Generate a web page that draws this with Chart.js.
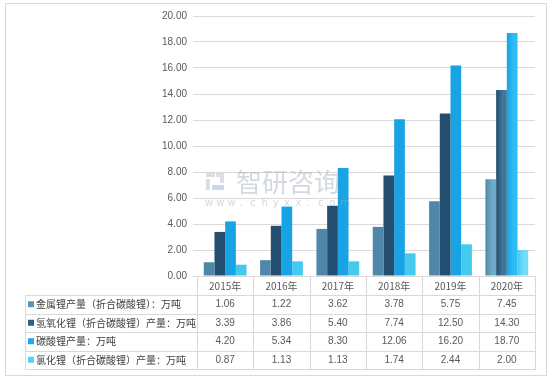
<!DOCTYPE html>
<html><head><meta charset="utf-8">
<script src="https://cdn.jsdelivr.net/npm/chart.js@4/dist/chart.umd.min.js"></script>
<style>html,body{margin:0;padding:0;background:#fff}#wrap{width:553px;height:379px;position:relative}</style>
</head><body><div id="wrap"><canvas id="c" width="553" height="379"></canvas></div>
<script>
const categories = ['2015年','2016年','2017年','2018年','2019年','2020年'];
const seriesNames = ['金属锂产量（折合碳酸锂）：万吨','氢氧化锂（折合碳酸锂）产量：万吨','碳酸锂产量：万吨','氯化锂（折合碳酸锂）产量：万吨'];
const metalLithium = [1.06,1.22,3.62,3.78,5.75,7.45];
const lithiumHydroxide = [3.39,3.86,5.40,7.74,12.50,14.30];
const lithiumCarbonate = [4.20,5.34,8.30,12.06,16.20,18.70];
const lithiumChloride = [0.87,1.13,1.13,1.74,2.44,2.00];
const yMin = 0, yMax = 20, yStep = 2;

const seriesValues = [metalLithium, lithiumHydroxide, lithiumCarbonate, lithiumChloride];
const baseColors = ['#5b95b6','#2f6083','#1eaaea','#55d0f2'];
const gradStops = [
  ['#4f87a8','#6eaac9'],
  ['#234e6f','#40769b'],
  ['#17a3e4','#2dbcf6'],
  ['#45caef','#74dcf7']
];
const FONT_CN = '"Noto Sans CJK SC","Noto Sans",sans-serif';
const FONT_NUM = '"Liberation Sans Narrow","Liberation Sans",sans-serif';

const gradientPlugin = {
  id: 'grad',
  beforeDatasetsDraw(chart) {
    const ctx = chart.ctx;
    chart.data.datasets.forEach((ds, di) => {
      const meta = chart.getDatasetMeta(di);
      meta.data.forEach(el => {
        const x0 = el.x - el.width / 2, x1 = el.x + el.width / 2;
        const g = ctx.createLinearGradient(x0, 0, x1, 0);
        g.addColorStop(0, gradStops[di][0]);
        g.addColorStop(0.6, gradStops[di][1]);
        g.addColorStop(1, gradStops[di][1]);
        el.options.backgroundColor = g;
      });
    });
  }
};

const tablePlugin = {
  id: 'table',
  afterDatasetsDraw(chart) {
    const ctx = chart.ctx;
    // watermark
    ctx.save();
    ctx.globalAlpha = 0.5;
    ctx.fillStyle = '#b8c0cb';
    ctx.fillRect(206, 173, 9, 4);
    ctx.fillRect(216, 173, 8, 4);
    ctx.fillRect(220, 177, 4, 6);
    ctx.fillRect(206, 179, 4, 11);
    ctx.fillStyle = '#8fb3dd';
    ctx.fillRect(212, 185, 12, 5);
    ctx.fillStyle = '#aab3bf';
    ctx.font = '26px ' + FONT_CN;
    ctx.textBaseline = 'middle';
    ctx.textAlign = 'left';
    ctx.fillText('智研咨询', 236, 182);
    ctx.font = '10px "DejaVu Sans",sans-serif';
    const w = 'www.chyxx.com';
    for (let i = 0; i < w.length; i++) ctx.fillText(w[i], 205 + i * 11.3, 203);
    ctx.restore();
  },
  afterDraw(chart) {
    const ctx = chart.ctx;
    const xs = chart.scales.x;
    const area = chart.chartArea;
    const n = categories.length;
    const step = xs.getPixelForValue(1) - xs.getPixelForValue(0);
    const top = area.bottom;
    const headBottom = 295;
    const rowH = 18.5;
    const tableLeft = 25;
    const bottom = headBottom + rowH * seriesValues.length;
    ctx.save();
    ctx.strokeStyle = '#d9d9d9';
    ctx.lineWidth = 1;
    ctx.beginPath();
    for (let i = 0; i <= n; i++) {
      const bx = Math.round(xs.getPixelForValue(i) - step / 2) + 0.5;
      ctx.moveTo(bx, top); ctx.lineTo(bx, bottom);
    }
    ctx.moveTo(tableLeft + 0.5, headBottom); ctx.lineTo(tableLeft + 0.5, bottom);
    for (let r = 0; r <= seriesValues.length; r++) {
      const y = Math.round(headBottom + r * rowH) + 0.5;
      ctx.moveTo(tableLeft, y); ctx.lineTo(Math.round(xs.getPixelForValue(n - 1) + step / 2) + 1, y);
    }
    ctx.stroke();
    // outer border
    ctx.strokeRect(5.5, 3.5, 541, 372);
    // header
    ctx.fillStyle = '#595959';
    ctx.textAlign = 'center';
    ctx.textBaseline = 'middle';
    categories.forEach((c, i) => {
      ctx.font = '10px ' + FONT_CN;
      ctx.fillText(c, xs.getPixelForValue(i), (top + headBottom) / 2 + 1);
    });
    // rows
    seriesValues.forEach((vals, r) => {
      const cy = headBottom + r * rowH + rowH / 2;
      ctx.fillStyle = baseColors[r];
      ctx.fillRect(tableLeft + 3, cy - 3, 6, 6);
      ctx.fillStyle = '#404040';
      ctx.textAlign = 'left';
      ctx.font = '10px ' + FONT_CN;
      ctx.fillText(seriesNames[r], tableLeft + 11, cy);
      ctx.fillStyle = '#595959';
      ctx.textAlign = 'center';
      ctx.font = '10px ' + FONT_NUM;
      vals.forEach((v, i) => ctx.fillText(v.toFixed(2), xs.getPixelForValue(i), cy));
    });
    ctx.restore();
  }
};

new Chart(document.getElementById('c'), {
  type: 'bar',
  data: {
    labels: categories,
    datasets: seriesValues.map((vals, i) => ({
      label: seriesNames[i],
      data: vals,
      backgroundColor: baseColors[i],
      borderWidth: 0,
      barPercentage: 1,
      categoryPercentage: 0.76
    }))
  },
  options: {
    responsive: false,
    animation: false,
    devicePixelRatio: 1,
    layout: { padding: { left: 0, right: 18, top: 16, bottom: 103 } },
    plugins: { legend: { display: false }, tooltip: { enabled: false } },
    scales: {
      x: {
        grid: { display: false, drawTicks: false },
        border: { display: false },
        ticks: { display: false }
      },
      y: {
        min: yMin, max: yMax,
        afterFit(scale) { scale.width = 197; },
        ticks: {
          stepSize: yStep,
          padding: 6,
          color: '#595959',
          font: { family: FONT_NUM, size: 10 },
          callback: v => Number(v).toFixed(2)
        },
        grid: { color: '#d9d9d9', tickColor: '#d9d9d9', tickLength: 4, lineWidth: 1 },
        border: { display: false }
      }
    }
  },
  plugins: [gradientPlugin, tablePlugin]
});
</script></body></html>
